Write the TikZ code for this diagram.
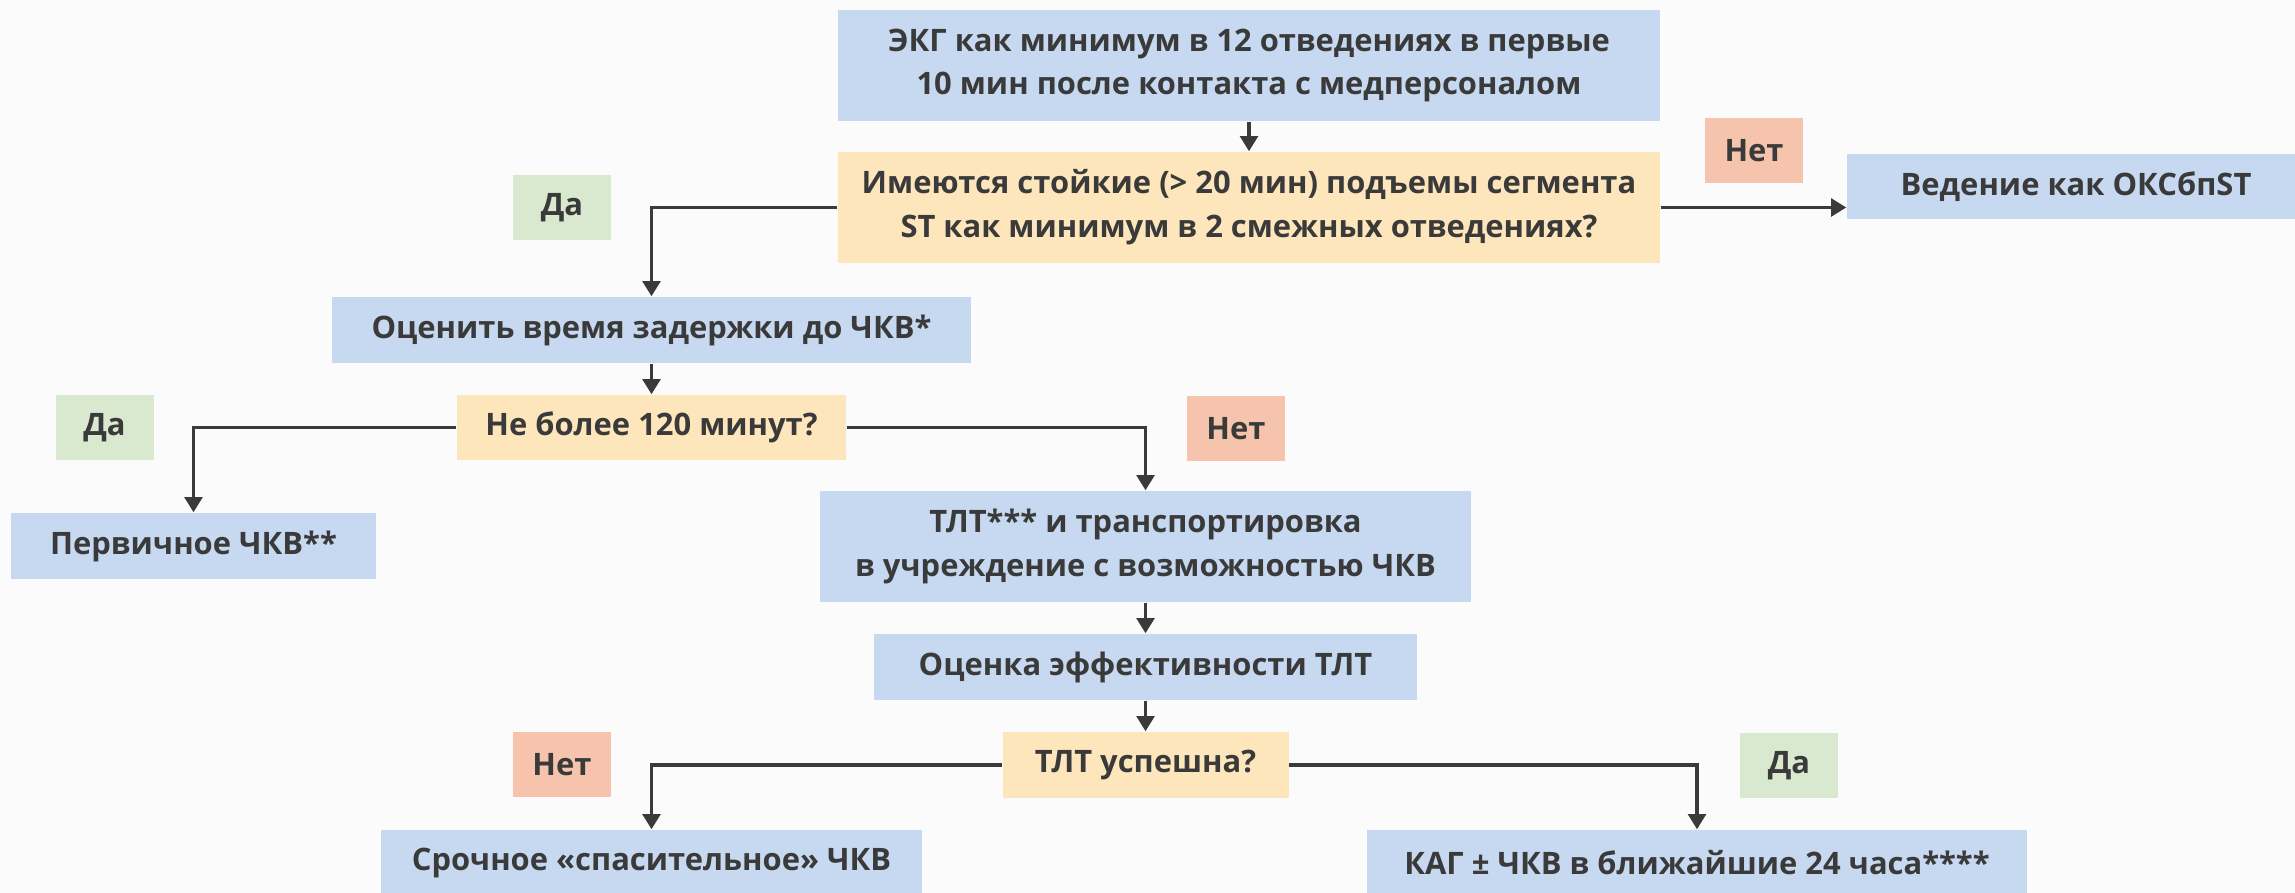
\documentclass[tikz,border=0pt]{standalone}
\usepackage{fontspec}
\setmainfont{Open Sans}
\usepackage{xcolor}
\usepackage{tikz}
\usetikzlibrary{positioning, calc, arrows.meta}
\definecolor{boxblue}{RGB}{198, 217, 240}
\definecolor{boxyellow}{RGB}{253, 230, 187}
\definecolor{tagred}{RGB}{246, 196, 172}
\definecolor{taggreen}{RGB}{217, 233, 207}
\definecolor{inkgray}{RGB}{58, 58, 58}
\definecolor{pagewhite}{RGB}{251, 251, 251}

\begin{document}
\begin{tikzpicture}[
                % Стиль для блоков действий
                actbox/.style={
                    rectangle, fill=boxblue, draw=none,
                    text=inkgray, font=\bfseries\fontsize{8.8}{12.5}\selectfont,
                    align=center, inner sep=0pt
                },
                % Стиль для вопросов
                askbox/.style={
                    actbox, fill=boxyellow
                },
                % Метки Да / Нет
                yestag/.style={
                    rectangle, fill=taggreen, text=inkgray,
                    font=\bfseries\fontsize{8.8}{12.5}\selectfont,
                    minimum width=0.98cm, minimum height=0.65cm, inner sep=0pt
                },
                notag/.style={
                    yestag, fill=tagred
                },
                % Стрелки
                flow/.style={
                    -{Triangle[width=5pt, length=4.3pt]}, line width=1pt, color=inkgray
                }
            ]
                \fill[pagewhite] (0,0) rectangle (22.95,-8.93);
                \useasboundingbox (0,0) rectangle (22.95,-8.93);

                % 1. Блоки
                \node[actbox, minimum width=8.22cm, minimum height=1.11cm] (ecg) at (12.49,-0.655)
                    {ЭКГ как минимум в 12 отведениях в первые\\10 мин после контакта с медперсоналом};
                \node[askbox, minimum width=8.22cm, minimum height=1.11cm] (stq) at (12.49,-2.075)
                    {Имеются стойкие (> 20 мин) подъемы сегмента\\ST как минимум в 2 смежных отведениях?};
                \node[actbox, minimum width=4.58cm, minimum height=0.65cm] (manage) at (20.76,-1.865)
                    {Ведение как ОКСбпST};

                \node[actbox, minimum width=6.39cm, minimum height=0.66cm] (delay) at (6.515,-3.30)
                    {Оценить время задержки до ЧКВ*};
                \node[askbox, minimum width=3.89cm, minimum height=0.65cm] (q120) at (6.515,-4.275)
                    {Не более 120 минут?};
                \node[actbox, minimum width=3.65cm, minimum height=0.66cm] (pci) at (1.935,-5.46)
                    {Первичное ЧКВ**};

                \node[actbox, minimum width=6.51cm, minimum height=1.11cm] (tlt) at (11.455,-5.465)
                    {ТЛТ*** и транспортировка\\в учреждение с возможностью ЧКВ};
                \node[actbox, minimum width=5.43cm, minimum height=0.66cm] (eff) at (11.455,-6.67)
                    {Оценка эффективности ТЛТ};
                \node[askbox, minimum width=2.86cm, minimum height=0.66cm] (qok) at (11.455,-7.65)
                    {ТЛТ успешна?};

                \node[actbox, minimum width=5.41cm, minimum height=0.66cm] (rescue) at (6.515,-8.63)
                    {Срочное «спасительное» ЧКВ};
                \node[actbox, minimum width=6.60cm, minimum height=0.66cm] (cag) at (16.97,-8.63)
                    {КАГ ± ЧКВ в ближайшие 24 часа****};

                % 2. Метки
                \node[notag] (no1) at (17.54,-1.51) {Нет};
                \node[yestag] (yes1) at (5.62,-2.075) {Да};
                \node[yestag] (yes2) at (1.045,-4.275) {Да};
                \node[notag] (no2) at (12.36,-4.285) {Нет};
                \node[notag] (no3) at (5.62,-7.65) {Нет};
                \node[yestag] (yes3) at (17.89,-7.66) {Да};

                % 3. Стрелки
                \draw[flow] (ecg) -- (stq);
                \draw[flow] (stq.west) -| (delay.north);
                \draw[flow] (stq.east) -- (stq.east -| manage.west);
                \draw[flow] (delay) -- (q120);
                \draw[flow] (q120.west) -| (pci.north);
                \draw[flow] (q120.east) -| (tlt.north);
                \draw[flow] (tlt) -- (eff);
                \draw[flow] (eff) -- (qok);
                \draw[flow] (qok.west) -| (rescue.north);
                \draw[flow] (qok.east) -| (cag.north);

            \end{tikzpicture}
\end{document}
